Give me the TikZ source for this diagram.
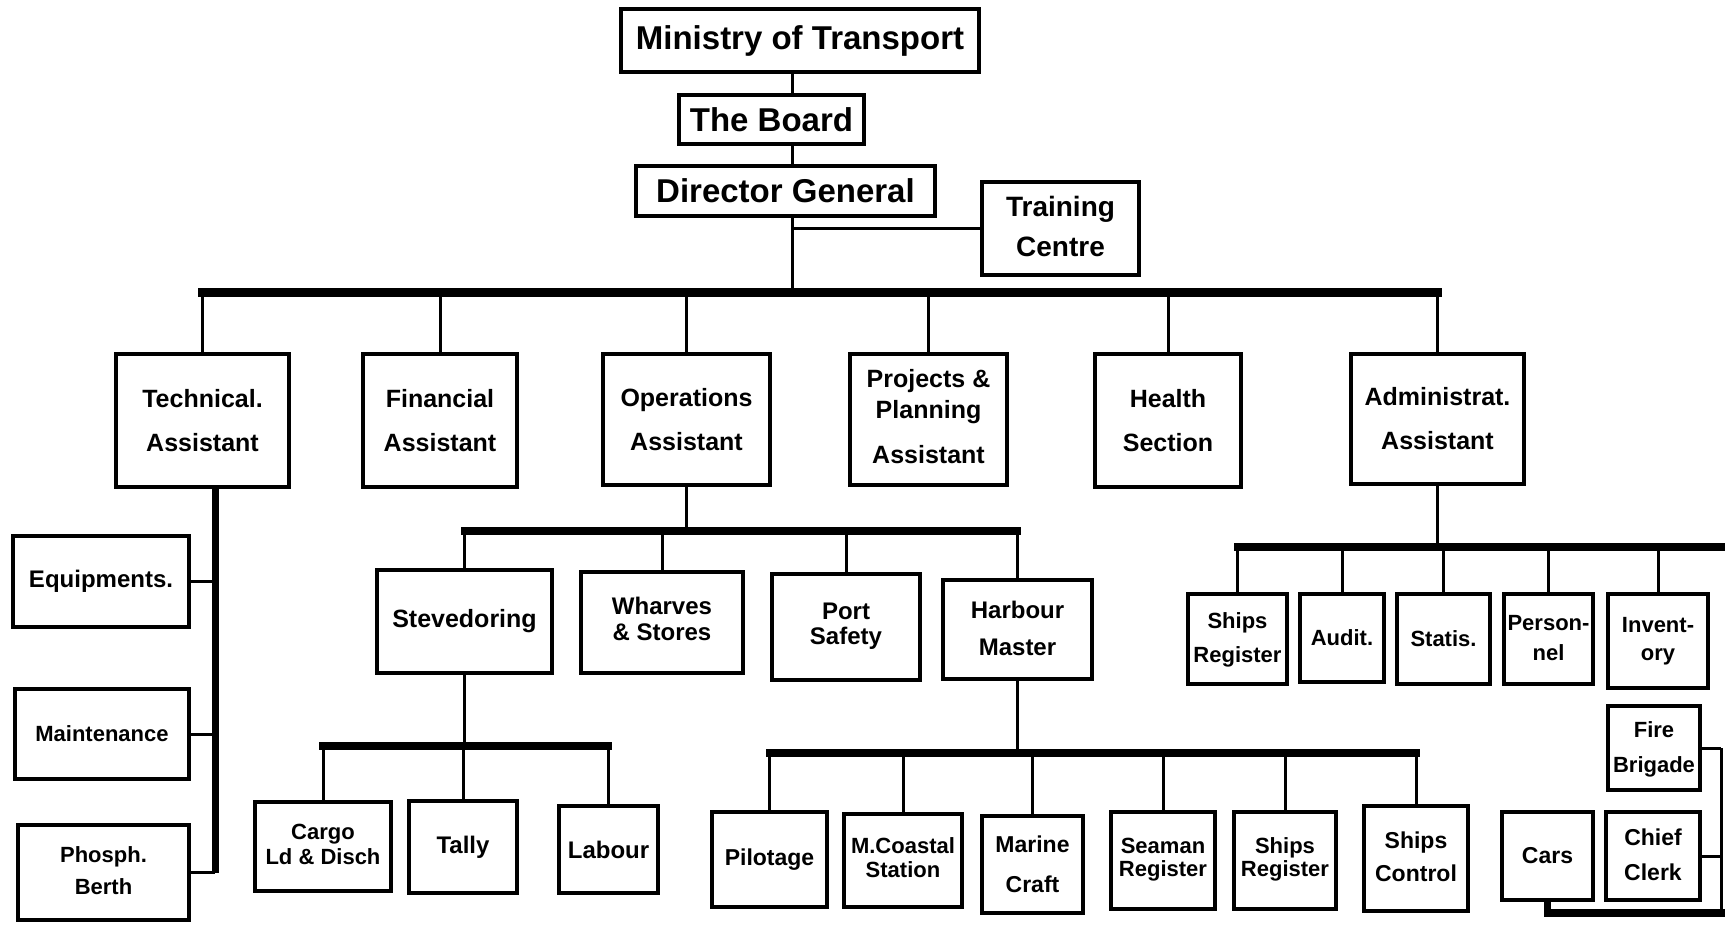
\documentclass[tikz,border=0pt]{standalone}
\usepackage{fontspec}
\setmainfont{Liberation Sans}
\newcommand\ml[1]{\begin{tabular}{@{}c@{}}#1\end{tabular}}
\tikzset{
  box/.style={draw, line width=1.8pt, inner sep=0pt},
  wh/.style 2 args={minimum width=#1*0.5pt, minimum height=#2*0.5pt},
  sz/.style 2 args={font=\bfseries\fontsize{#1}{#2}\selectfont},
  conn/.style={line width=1.5pt},
  bus/.style={line width=4.5pt, line cap=rect},
  bustwo/.style={line width=3.6pt, line cap=rect},
  spinestyle/.style={line width=3.5pt},
}
\begin{document}
\begin{tikzpicture}[x=0.5pt,y=-0.5pt]
\useasboundingbox (0,0) rectangle (1725,925);
% top chain
\node[box, sz={16.5}{20}, wh={358}{63}] (min) at (800,40.5) {Ministry of Transport};
\node[box, sz={16.5}{20}, wh={185}{49}] (board) at (771.5,119.5) {The Board};
\node[box, sz={16.5}{20}, wh={299}{50}] (dg) at (785.5,191) {Director General};
\node[box, sz={14}{20}, wh={157}{93}] (train) at (1060.5,228.5) {\ml{Training\\Centre}};
% second row
\node[box, sz={12.5}{22}, wh={173}{133}] (tech) at (202.5,420.5) {\ml{Technical.\\Assistant}};
\node[box, sz={12.5}{22}, wh={154}{133}] (fin) at (440,420.5) {\ml{Financial\\Assistant}};
\node[box, sz={12.5}{22}, wh={167}{131}] (ops) at (686.5,419.5) {\ml{Operations\\Assistant}};
\node[box, sz={12.5}{15.5}, wh={157}{131}] (proj) at (928.5,419.5) {\ml{Projects \&\\Planning\\[7pt]Assistant}};
\node[box, sz={12.5}{22}, wh={146}{133}] (health) at (1168,420.5) {\ml{Health\\Section}};
\node[box, sz={12.5}{22}, wh={173}{130}] (admin) at (1437.5,419) {\ml{Administrat.\\Assistant}};
% technical branch
\node[box, sz={12}{14}, wh={176}{91}] (equip) at (101,581.5) {Equipments.};
\node[box, sz={11}{14}, wh={174}{90}] (maint) at (102,734) {Maintenance};
\node[box, sz={11}{16}, wh={171}{95}] (phos) at (103.5,872.5) {\ml{Phosph.\\Berth}};
% operations branch
\node[box, sz={12.5}{14}, wh={175}{103}] (stev) at (464.5,621.5) {Stevedoring};
\node[box, sz={12}{12.7}, wh={162}{101}] (wharf) at (662,622.5) {\ml{Wharves\\\& Stores}};
\node[box, sz={12}{12.7}, wh={148}{106}] (port) at (846,627) {\ml{Port\\Safety}};
\node[box, sz={12}{18.5}, wh={149}{99}] (harb) at (1017.5,629.5) {\ml{Harbour\\Master}};
% stevedoring branch
\node[box, sz={11}{12.5}, wh={136}{89}] (cargo) at (323,846.5) {\ml{Cargo\\Ld \& Disch}};
\node[box, sz={12}{14}, wh={108}{92}] (tally) at (463,847) {Tally};
\node[box, sz={12}{14}, wh={99}{87}] (labour) at (608.5,849.5) {Labour};
% harbour branch
\node[box, sz={11.5}{14}, wh={115}{95}] (pilot) at (769.5,859.5) {Pilotage};
\node[box, sz={11}{12}, wh={118}{93}] (coast) at (903,860.5) {\ml{M.Coastal\\Station}};
\node[box, sz={11.5}{20}, wh={101}{97}] (marine) at (1032.5,864.5) {\ml{Marine\\Craft}};
\node[box, sz={11}{11.5}, wh={104}{97}] (seaman) at (1163,860.5) {\ml{Seaman\\Register}};
\node[box, sz={11}{11.5}, wh={102}{97}] (shipreg) at (1285,860.5) {\ml{Ships\\Register}};
\node[box, sz={11.5}{16.5}, wh={104}{105}] (shipctl) at (1416,858.5) {\ml{Ships\\Control}};
% admin branch
\node[box, sz={11}{17}, wh={99}{90}] (sreg) at (1237.5,639) {\ml{Ships\\Register}};
\node[box, sz={11}{14}, wh={84}{88}] (audit) at (1342,638) {Audit.};
\node[box, sz={11}{14}, wh={93}{90}] (statis) at (1443.5,639) {Statis.};
\node[box, sz={11}{15}, wh={89}{90}] (person) at (1548.5,639) {\ml{Person-\\nel}};
\node[box, sz={11}{14}, wh={100}{94}] (invent) at (1658,641) {\ml{Invent-\\ory}};
\node[box, sz={11}{17.5}, wh={92}{84}] (fire) at (1654,748) {\ml{Fire\\Brigade}};
\node[box, sz={11.5}{14}, wh={91}{88}] (cars) at (1547.5,856) {Cars};
\node[box, sz={11.5}{17.5}, wh={94}{88}] (chief) at (1653,856) {\ml{Chief\\Clerk}};
% helper coordinates
\coordinate (trunk) at (792,0);
\coordinate (busY) at (0,293);
\coordinate (spine) at (215,0);
\coordinate (opsY) at (0,531);
\coordinate (stevY) at (0,746);
\coordinate (harbY) at (0,753);
\coordinate (admY) at (0,547);
\coordinate (admR) at (1725,547);
\coordinate (edge) at (1721,0);
\coordinate (eBot) at (1725,913);
% top chain connectors
\draw[conn] (min.south -| trunk) -- (board.north -| trunk);
\draw[conn] (board.south -| trunk) -- (dg.north -| trunk);
\draw[conn] (dg.south -| trunk) -- (trunk |- busY);
\draw[conn] (trunk |- train.west) -- (train.west);
% main bus
\draw[bus] (tech.north |- busY) -- (admin.north |- busY);
\foreach \n in {tech,fin,ops,proj,health,admin}
  \draw[conn] (\n.north) -- (\n.north |- busY);
% technical spine
\draw[spinestyle] (tech.south -| spine) -- (phos.east -| spine);
\foreach \n in {equip,maint,phos}
  \draw[conn] (\n.east) -- (\n.east -| spine);
% operations
\draw[conn] (ops.south) -- (ops.south |- opsY);
\draw[bustwo] (stev.north |- opsY) -- (harb.north |- opsY);
\foreach \n in {stev,wharf,port,harb}
  \draw[conn] (\n.north) -- (\n.north |- opsY);
% stevedoring
\draw[conn] (stev.south) -- (stev.south |- stevY);
\draw[bustwo] (cargo.north |- stevY) -- (labour.north |- stevY);
\foreach \n in {cargo,tally,labour}
  \draw[conn] (\n.north) -- (\n.north |- stevY);
% harbour master
\draw[conn] (harb.south) -- (harb.south |- harbY);
\draw[bustwo] (pilot.north |- harbY) -- (shipctl.north |- harbY);
\foreach \n in {pilot,coast,marine,seaman,shipreg,shipctl}
  \draw[conn] (\n.north) -- (\n.north |- harbY);
% administration
\draw[conn] (admin.south) -- (admin.south |- admY);
\draw[bustwo] (sreg.north |- admY) -- (admR);
\foreach \n in {sreg,audit,statis,person,invent}
  \draw[conn] (\n.north) -- (\n.north |- admY);
% right edge
\draw[conn] (fire.east) -- (fire.east -| edge);
\draw[conn] (fire.east -| edge) -- (edge |- eBot);
\draw[conn] (chief.east) -- (chief.east -| edge);
\draw[bustwo, line cap=butt] (cars.south) -- (cars.south |- eBot) -- (eBot);
\end{tikzpicture}
\end{document}
